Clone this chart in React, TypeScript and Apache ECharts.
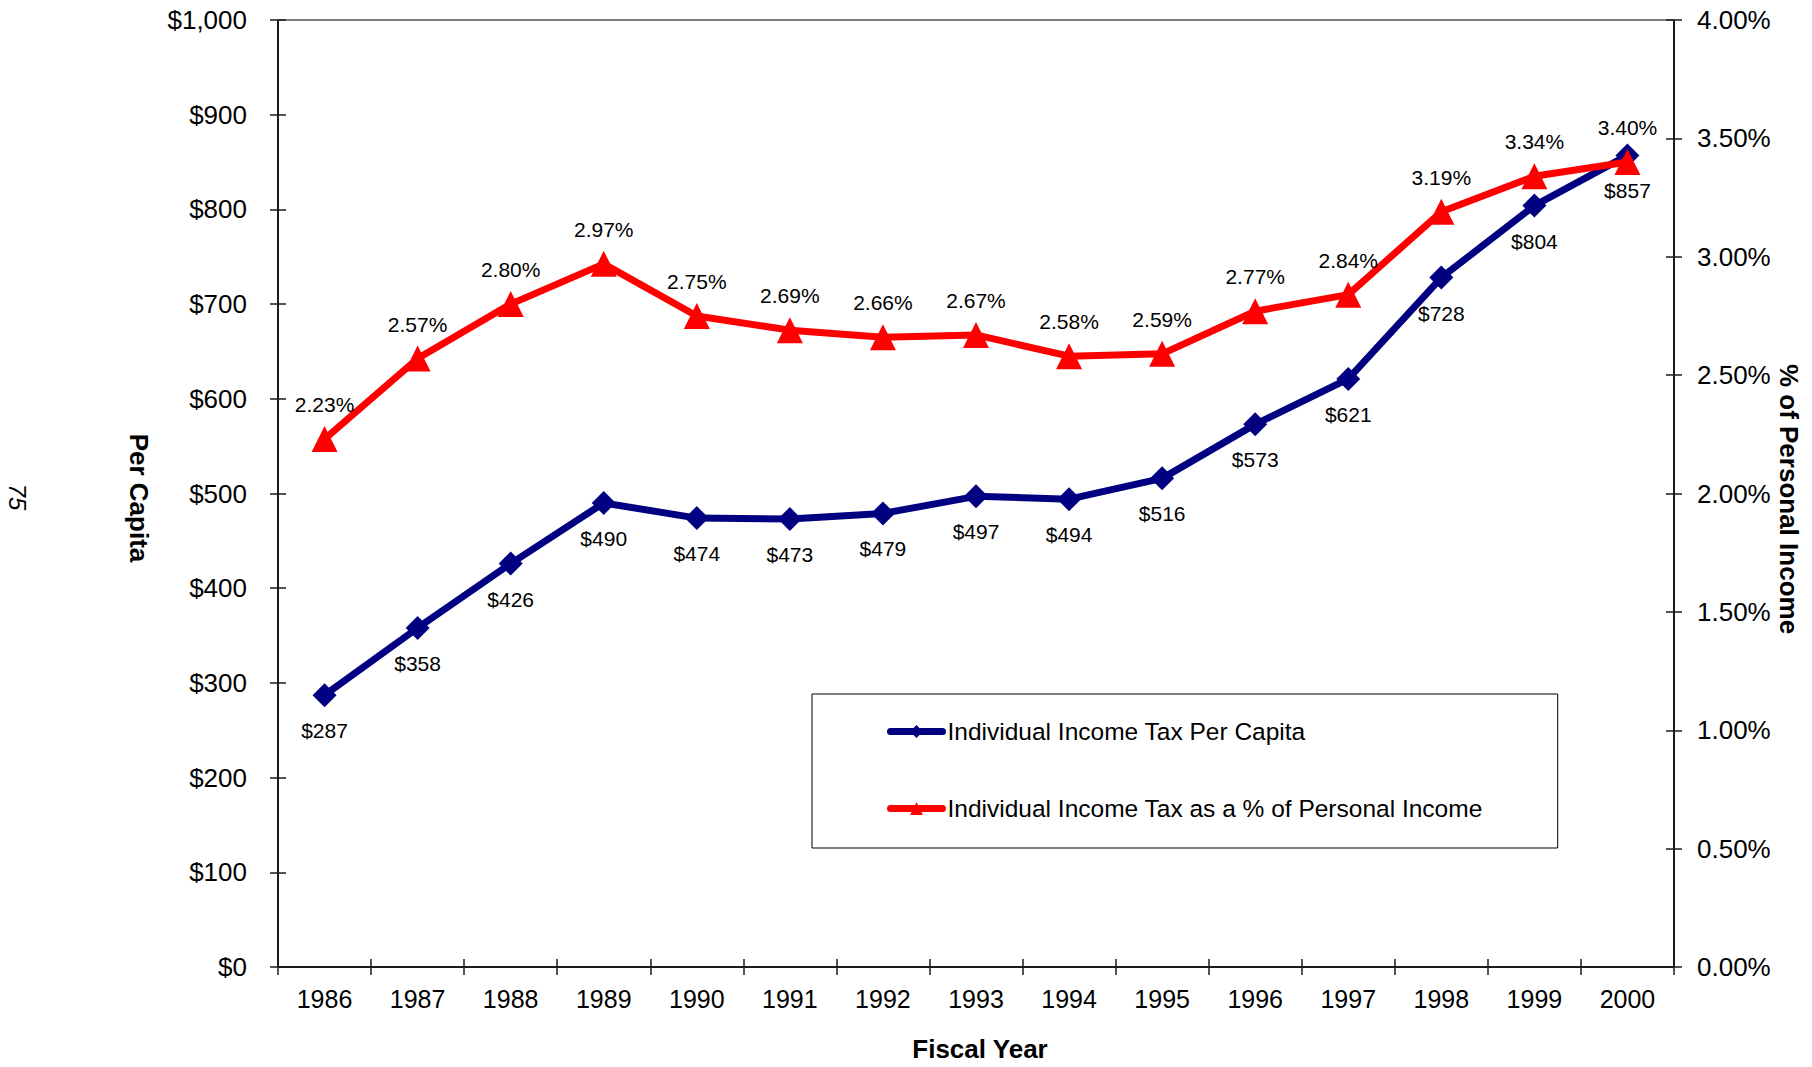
import React, { useEffect, useRef } from "react";
import * as echarts from "echarts";

const years = ["1986", "1987", "1988", "1989", "1990", "1991", "1992", "1993", "1994", "1995", "1996", "1997", "1998", "1999", "2000"];
const perCapita = [287, 358, 426, 490, 474, 473, 479, 497, 494, 516, 573, 621, 728, 804, 857];
const pctIncome = [2.23, 2.57, 2.8, 2.97, 2.75, 2.69, 2.66, 2.67, 2.58, 2.59, 2.77, 2.84, 3.19, 3.34, 3.4];
const seriesNames = ["Individual Income Tax Per Capita", "Individual Income Tax as a % of Personal Income"];

const FONT = "'Liberation Sans', Arial, sans-serif";

export default function App() {
  const ref = useRef<HTMLDivElement>(null);
  useEffect(() => {
    document.body.style.margin = "0";
    document.body.style.overflow = "hidden";
    const chart = echarts.init(ref.current!, null, { renderer: "svg" });
    const axisColor = "#1a1a1a";
    const option: any = {
      animation: false,
      backgroundColor: "#ffffff",
      textStyle: { fontFamily: FONT, color: "#000" },
      grid: { left: 278, top: 20, right: 138, bottom: 100, containLabel: false },
      legend: {
        orient: "vertical",
        left: 812,
        top: 694,
        padding: [25, 75, 27, 75],
        borderColor: "#000",
        borderWidth: 1,
        itemGap: 52,
        itemWidth: 52,
        itemHeight: 16,
        lineStyle: { width: 7, cap: "round" },
        textStyle: { fontSize: 24.5, color: "#000", fontFamily: FONT },
        data: seriesNames,
      },
      xAxis: [
        {
          type: "category",
          data: years,
          position: "bottom",
          boundaryGap: true,
          axisLine: { onZero: false, lineStyle: { color: axisColor, width: 2 } },
          axisTick: { show: true, length: 8, lineStyle: { color: axisColor, width: 1.5 } },
          axisLabel: { fontSize: 25, color: "#000", margin: 19, fontFamily: FONT },
          splitLine: { show: false },
        },
        {
          type: "category",
          data: years,
          position: "bottom",
          boundaryGap: true,
          axisLine: { show: false, onZero: false },
          axisTick: { show: true, inside: true, length: 8, lineStyle: { color: axisColor, width: 1.5 } },
          axisLabel: { show: false },
          splitLine: { show: false },
        },
        {
          type: "category",
          data: years,
          position: "top",
          boundaryGap: true,
          axisLine: { show: true, onZero: false, lineStyle: { color: "#808080", width: 2 } },
          axisTick: { show: false },
          axisLabel: { show: false },
          splitLine: { show: false },
        },
      ],
      yAxis: [
        {
          type: "value",
          position: "left",
          min: 0,
          max: 1000,
          interval: 100,
          axisLine: { show: true, onZero: false, lineStyle: { color: axisColor, width: 2 } },
          axisTick: { show: true, length: 8, lineStyle: { color: axisColor, width: 1.5 } },
          axisLabel: {
            fontSize: 26,
            color: "#000",
            margin: 31,
            fontFamily: FONT,
            formatter: (v: number) => "$" + v.toLocaleString("en-US"),
          },
          splitLine: { show: false },
        },
        {
          type: "value",
          position: "right",
          min: 0,
          max: 4,
          interval: 0.5,
          axisLine: { show: true, onZero: false, lineStyle: { color: axisColor, width: 2 } },
          axisTick: { show: true, length: 8, lineStyle: { color: axisColor, width: 1.5 } },
          axisLabel: {
            fontSize: 26,
            color: "#000",
            margin: 23,
            fontFamily: FONT,
            formatter: (v: number) => v.toFixed(2) + "%",
          },
          splitLine: { show: false },
        },
        {
          type: "value",
          position: "left",
          min: 0,
          max: 1000,
          interval: 100,
          axisLine: { show: false, onZero: false },
          axisTick: { show: true, inside: true, length: 8, lineStyle: { color: axisColor, width: 1.5 } },
          axisLabel: { show: false },
          splitLine: { show: false },
        },
        {
          type: "value",
          position: "right",
          min: 0,
          max: 4,
          interval: 0.5,
          axisLine: { show: false, onZero: false },
          axisTick: { show: true, inside: true, length: 8, lineStyle: { color: axisColor, width: 1.5 } },
          axisLabel: { show: false },
          splitLine: { show: false },
        },
      ],
      series: [
        {
          name: seriesNames[0],
          type: "line",
          xAxisIndex: 0,
          yAxisIndex: 0,
          data: perCapita,
          color: "#000080",
          symbol: "diamond",
          symbolSize: 24,
          lineStyle: { width: 7, color: "#000080" },
          itemStyle: { color: "#000080" },
          label: {
            show: true,
            position: "bottom",
            distance: 13,
            fontSize: 21,
            color: "#000",
            fontFamily: FONT,
            formatter: (p: any) => "$" + p.value,
          },
          z: 3,
        },
        {
          name: seriesNames[1],
          type: "line",
          xAxisIndex: 0,
          yAxisIndex: 1,
          data: pctIncome,
          color: "#ff0000",
          symbol: "triangle",
          symbolSize: 26,
          lineStyle: { width: 7, color: "#ff0000" },
          itemStyle: { color: "#ff0000" },
          label: {
            show: true,
            position: "top",
            distance: 11,
            fontSize: 21,
            color: "#000",
            fontFamily: FONT,
            formatter: (p: any) => p.value.toFixed(2) + "%",
          },
          z: 4,
        },
      ],
      graphic: [
        {
          type: "text",
          x: 139,
          y: 498,
          rotation: -Math.PI / 2,
          style: { text: "Per Capita", fill: "#000", font: "bold 26px " + FONT, align: "center", verticalAlign: "middle" },
        },
        {
          type: "text",
          x: 1789,
          y: 499,
          rotation: -Math.PI / 2,
          style: { text: "% of Personal Income", fill: "#000", font: "bold 26px " + FONT, align: "center", verticalAlign: "middle" },
        },
        {
          type: "text",
          x: 980,
          y: 1049,
          style: { text: "Fiscal Year", fill: "#000", font: "bold 26px " + FONT, align: "center", verticalAlign: "middle" },
        },
        {
          type: "text",
          x: 17,
          y: 497,
          rotation: -Math.PI / 2,
          style: { text: "75", fill: "#000", font: "italic 24px " + FONT, align: "center", verticalAlign: "middle" },
        },
      ],
    };
    chart.setOption(option);
    return () => chart.dispose();
  }, []);
  return <div ref={ref} style={{ position: "absolute", left: 0, top: 0, width: 1812, height: 1067 }} />;
}
